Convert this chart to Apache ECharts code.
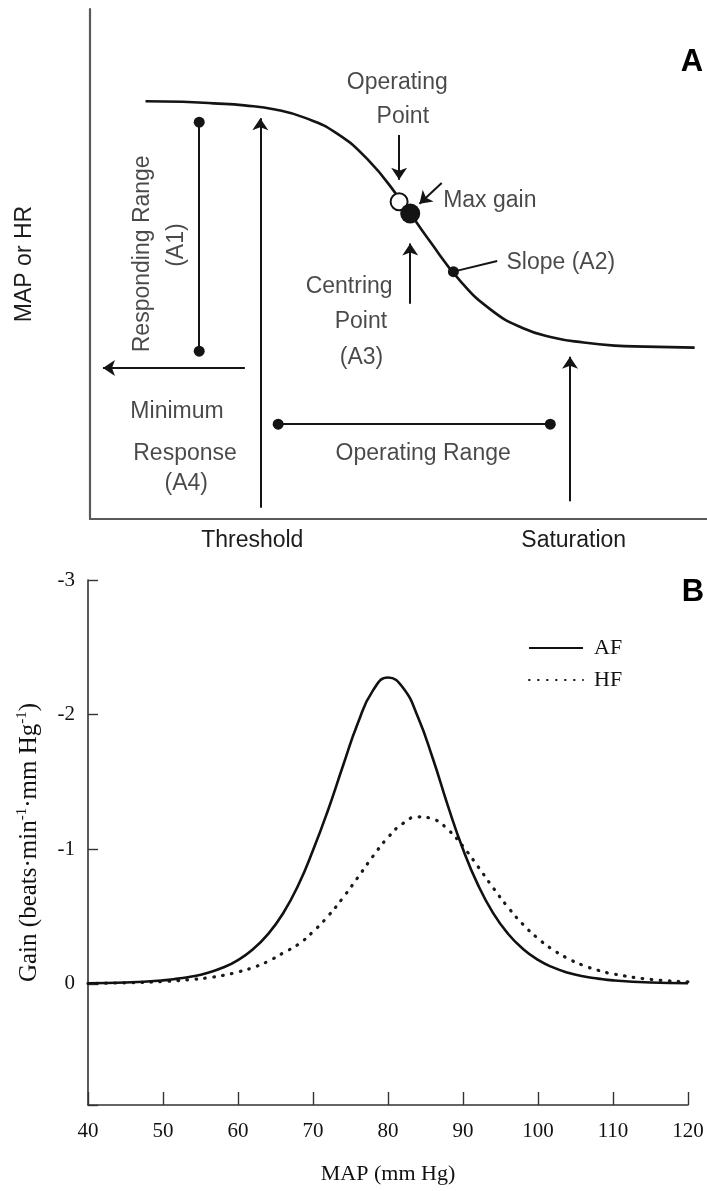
<!DOCTYPE html>
<html>
<head>
<meta charset="utf-8">
<script src="https://cdn.jsdelivr.net/npm/echarts@6.0.0/dist/echarts.min.js"></script>
<style>
  html, body { margin: 0; padding: 0; background: #fff; }
  #chart { width: 707px; height: 1191px; }
</style>
</head>
<body>
<div id="chart"></div>
<script>
// ---------- Panel A: schematic reflex curve (arbitrary units, 0-100 on both axes) ----------
const curveAX = [9, 15, 20, 25, 30, 35, 40, 45, 50, 55, 60, 65, 70, 75, 80, 85, 90, 98];
const curveAY = [81.9, 81.8, 81.5, 81.1, 80.3, 78.6, 75.6, 70.5, 63.1, 54.6, 46.7, 41.0, 37.5, 35.6, 34.6, 34.0, 33.8, 33.6];

// Marked points on the curve
const operatingPoint = [50.1, 62.2];
const maxGainPoint = [51.9, 59.9];
const slopePoint = [58.9, 48.5];

// Arrows (tail -> head)
const arrowTails = [[50.1, 75.3], [57.0, 65.9], [51.9, 42.2], [25.1, 29.6], [27.6, 2.2], [77.8, 3.5]];
const arrowHeads = [[50.1, 66.5], [53.4, 61.8], [51.9, 54.0], [2.1, 29.6], [27.6, 78.6], [77.8, 31.8]];

// Ranges drawn as segments with dotted ends
const rangeStarts = [[17.7, 77.8], [30.5, 18.6]];
const rangeEnds = [[17.7, 32.9], [74.6, 18.6]];

// Leader line for the slope label
const slopeLeaderEnd = [66.0, 50.6];

// Annotation text and anchors
const noteTexts = ['Operating', 'Point', 'Max gain', 'Slope (A2)', 'Centring', 'Point', '(A3)',
                   'Minimum', 'Response', '(A4)', 'Operating Range'];
const noteX = [49.8, 50.7, 64.8, 76.3, 42.0, 43.9, 44.0, 14.1, 15.4, 15.6, 54.0];
const noteY = [85.5, 78.8, 62.5, 50.2, 45.5, 38.6, 31.6, 21.0, 12.9, 6.9, 12.9];
const sideNoteTexts = ['Responding Range', '(A1)'];
const sideNoteX = [8.6, 14.1];
const sideNoteY = [52.0, 53.7];

// Pressure axis marks
const pressureMarkPos = [26.3, 78.4];
const pressureMarkNames = ['Threshold', 'Saturation'];

// ---------- Panel B: gain vs MAP ----------
const mapValues = [40, 45, 50, 52, 54, 56, 58, 60, 62, 64, 66, 68, 70, 72, 74, 76, 78, 80, 82, 84, 86,
                   88, 90, 92, 94, 96, 98, 100, 102, 104, 106, 108, 110, 115, 120];
const gainAF = [-0.004, -0.010, -0.026, -0.039, -0.056, -0.083, -0.121, -0.177, -0.257, -0.369, -0.523,
                -0.729, -0.992, -1.29, -1.62, -1.94, -2.18, -2.276, -2.20, -1.98, -1.67,
                -1.32, -1.00, -0.735, -0.527, -0.372, -0.259, -0.178, -0.122, -0.083, -0.056, -0.039,
                -0.026, -0.010, -0.004];
const gainHF = [-0.003, -0.008, -0.017, -0.024, -0.033, -0.045, -0.063, -0.088, -0.121, -0.167, -0.229,
                -0.292, -0.387, -0.503, -0.640, -0.792, -0.948, -1.088, -1.192, -1.241, -1.224,
                -1.146, -1.021, -0.871, -0.715, -0.569, -0.442, -0.337, -0.253, -0.188, -0.138, -0.101,
                -0.074, -0.033, -0.015];
const gainTicks = [-3, -2, -1, 0];

const SANS = '"Liberation Sans", Arial, Helvetica, sans-serif';
const SERIF = '"Liberation Serif", "Times New Roman", Times, serif';
const INK = '#141414';
const AXIS_A = '#5a5a5a';

const pairs = (xs, ys) => xs.map((x, i) => [x, ys[i]]);

const chart = echarts.init(document.getElementById('chart'), null, { renderer: 'canvas' });

chart.setOption({
  animation: false,
  backgroundColor: '#fff',
  grid: [
    { left: 90, top: 9, width: 617, height: 510 },
    { left: 88, top: 580, width: 600, height: 525 }
  ],
  xAxis: [
    {
      gridIndex: 0, type: 'value', min: 0, max: 100,
      axisLine: { show: true, onZero: false, lineStyle: { color: AXIS_A, width: 2.2 } },
      axisTick: { show: false },
      splitLine: { show: false },
      axisLabel: {
        customValues: pressureMarkPos,
        formatter: (v) => pressureMarkNames[pressureMarkPos.indexOf(v)] || '',
        fontFamily: SANS, fontSize: 23, color: '#1c1c1c', margin: 10
      }
    },
    {
      gridIndex: 1, type: 'value', min: 40, max: 120, interval: 10,
      axisLine: { show: true, onZero: false, lineStyle: { color: '#333', width: 1.6 } },
      axisTick: { show: true, inside: true, length: 13, lineStyle: { color: '#333', width: 1.4 } },
      splitLine: { show: false },
      axisLabel: { fontFamily: SERIF, fontSize: 21, color: '#111', margin: 16 },
      name: 'MAP (mm Hg)', nameLocation: 'middle', nameGap: 58,
      nameTextStyle: { fontFamily: SERIF, fontSize: 22, color: '#111' }
    }
  ],
  yAxis: [
    {
      gridIndex: 0, type: 'value', min: 0, max: 100,
      axisLine: { show: true, onZero: false, lineStyle: { color: AXIS_A, width: 2.2 } },
      axisTick: { show: false },
      axisLabel: { show: false },
      splitLine: { show: false },
      name: 'MAP or HR', nameLocation: 'middle', nameGap: 54,
      nameTextStyle: { fontFamily: SANS, fontSize: 23, color: '#1c1c1c' }
    },
    {
      gridIndex: 1, type: 'value', inverse: true, min: -3, max: 0.9, interval: 1,
      axisLine: { show: true, onZero: false, lineStyle: { color: '#333', width: 1.6 } },
      axisTick: { show: true, inside: true, length: 10, lineStyle: { color: '#333', width: 1.4 } },
      splitLine: { show: false },
      axisLabel: {
        fontFamily: SERIF, fontSize: 21, color: '#111', margin: 13,
        formatter: (v) => (gainTicks.indexOf(v) >= 0 ? String(v) : '')
      },
      name: '{n|Gain (beats·min}{s|-1}{n|·mm Hg}{s|-1}{n|)}',
      nameLocation: 'middle', nameGap: 44,
      nameTextStyle: {
        rich: {
          n: { fontFamily: SERIF, fontSize: 25, color: '#111', lineHeight: 29 },
          s: { fontFamily: SERIF, fontSize: 15, color: '#111', verticalAlign: 'top', lineHeight: 29 }
        }
      }
    }
  ],
  legend: {
    orient: 'vertical', left: 528, top: 637, padding: 0,
    itemWidth: 54, itemHeight: 14, itemGap: 10,
    selectedMode: false,
    data: ['AF', 'HF'],
    itemStyle: { opacity: 0 },
    textStyle: { fontFamily: SERIF, fontSize: 22, color: '#111', padding: [0, 0, 0, 6] }
  },
  graphic: [
    { type: 'text', x: 692, y: 62, style: { text: 'A', fontFamily: SANS, fontSize: 31, fontWeight: 'bold', fill: '#000', align: 'center', verticalAlign: 'middle' } },
    { type: 'text', x: 693, y: 592, style: { text: 'B', fontFamily: SANS, fontSize: 31, fontWeight: 'bold', fill: '#000', align: 'center', verticalAlign: 'middle' } }
  ],
  series: [
    // ----- Panel A -----
    {
      name: 'Reflex curve', type: 'line', xAxisIndex: 0, yAxisIndex: 0,
      data: pairs(curveAX, curveAY), smooth: true,
      symbol: 'none', lineStyle: { color: INK, width: 2.6 }, z: 2
    },
    {
      name: 'Arrows', type: 'lines', coordinateSystem: 'cartesian2d', xAxisIndex: 0, yAxisIndex: 0,
      symbol: ['none', 'arrow'], symbolSize: 12,
      lineStyle: { color: INK, width: 2, opacity: 1, curveness: 0 },
      data: arrowTails.map((t, i) => ({ coords: [t, arrowHeads[i]] })), z: 3
    },
    {
      name: 'Ranges', type: 'lines', coordinateSystem: 'cartesian2d', xAxisIndex: 0, yAxisIndex: 0,
      symbol: ['circle', 'circle'], symbolSize: 11,
      lineStyle: { color: INK, width: 2, opacity: 1, curveness: 0 },
      data: rangeStarts.map((s, i) => ({ coords: [s, rangeEnds[i]] })), z: 3
    },
    {
      name: 'Slope leader', type: 'lines', coordinateSystem: 'cartesian2d', xAxisIndex: 0, yAxisIndex: 0,
      symbol: ['none', 'none'],
      lineStyle: { color: INK, width: 2, opacity: 1, curveness: 0 },
      data: [{ coords: [slopePoint, slopeLeaderEnd] }], z: 3
    },
    {
      name: 'Operating point', type: 'scatter', xAxisIndex: 0, yAxisIndex: 0,
      data: [operatingPoint], symbol: 'circle', symbolSize: 17,
      itemStyle: { color: '#fff', borderColor: INK, borderWidth: 2, opacity: 1 }, z: 4
    },
    {
      name: 'Max gain', type: 'scatter', xAxisIndex: 0, yAxisIndex: 0,
      data: [maxGainPoint], symbol: 'circle', symbolSize: 20,
      itemStyle: { color: INK, opacity: 1 }, z: 5
    },
    {
      name: 'Slope point', type: 'scatter', xAxisIndex: 0, yAxisIndex: 0,
      data: [slopePoint], symbol: 'circle', symbolSize: 11,
      itemStyle: { color: INK, opacity: 1 }, z: 5
    },
    {
      name: 'Notes', type: 'scatter', xAxisIndex: 0, yAxisIndex: 0,
      data: noteTexts.map((t, i) => [noteX[i], noteY[i], t]),
      symbol: 'circle', symbolSize: 1, itemStyle: { color: 'rgba(0,0,0,0)' },
      label: {
        show: true, position: 'inside', formatter: (p) => p.data[2],
        fontFamily: SANS, fontSize: 23, color: '#1c1c1c'
      },
      z: 6
    },
    {
      name: 'Side notes', type: 'scatter', xAxisIndex: 0, yAxisIndex: 0,
      data: sideNoteTexts.map((t, i) => [sideNoteX[i], sideNoteY[i], t]),
      symbol: 'circle', symbolSize: 1, itemStyle: { color: 'rgba(0,0,0,0)' },
      label: {
        show: true, position: 'inside', rotate: 90, formatter: (p) => p.data[2],
        fontFamily: SANS, fontSize: 23, color: '#1c1c1c'
      },
      z: 6
    },
    // ----- Panel B -----
    {
      name: 'AF', type: 'line', xAxisIndex: 1, yAxisIndex: 1,
      data: pairs(mapValues, gainAF), smooth: true,
      symbol: 'none', lineStyle: { color: '#111', width: 2.6 }, itemStyle: { color: '#111' }, z: 3
    },
    {
      name: 'HF', type: 'line', xAxisIndex: 1, yAxisIndex: 1,
      data: pairs(mapValues, gainHF), smooth: true,
      symbol: 'none', lineStyle: { color: '#1a1a1a', width: 3.2, type: [0.6, 8.4], cap: 'round' },
      itemStyle: { color: '#1a1a1a' }, z: 2
    }
  ]
});
</script>
</body>
</html>
